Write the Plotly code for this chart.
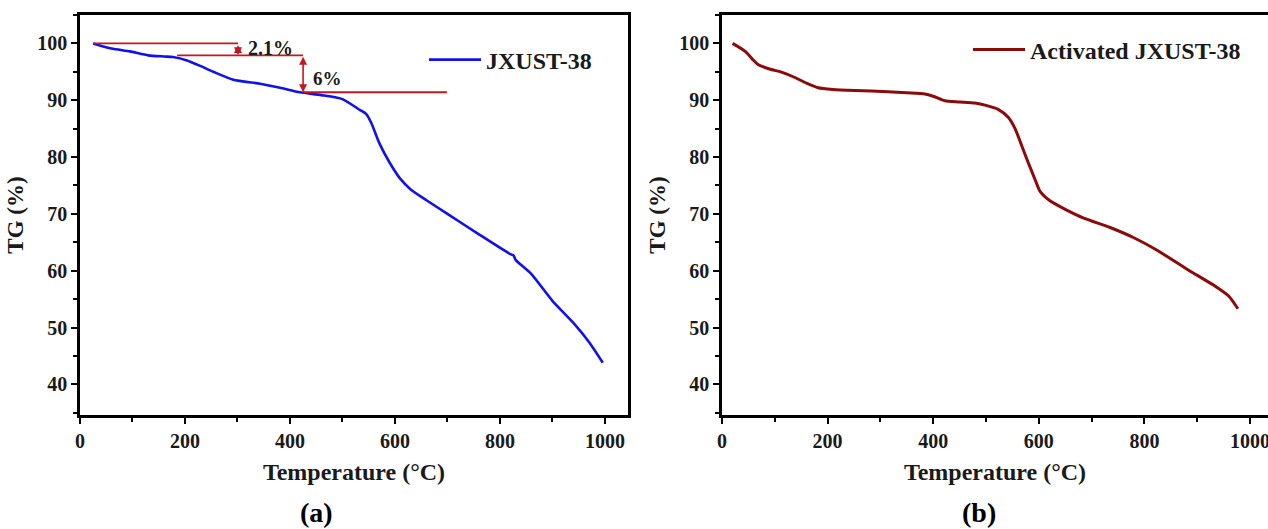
import plotly.graph_objects as go
from plotly.subplots import make_subplots

# ---- data ----
temp_a = [25, 60, 95, 130, 160, 177, 204, 230, 254, 292, 343, 381, 419, 460, 500, 533,
          545, 555, 570, 590, 610, 630, 660, 700, 760, 820, 826, 830, 860, 900, 940, 970, 996]
tg_a = [100.0, 99.1, 98.6, 97.9, 97.7, 97.6, 97.0, 96.0, 95.0, 93.6, 92.9, 92.2, 91.4, 90.9, 90.2, 88.3,
        87.6, 86.0, 82.5, 79.0, 76.2, 74.3, 72.4, 70.0, 66.4, 62.9, 62.7, 61.9, 59.4, 54.7, 50.8, 47.4, 43.8]

temp_b = [20, 44, 60, 68, 90, 114, 138, 160, 182, 210, 252, 314, 350, 384, 400, 422, 450, 479,
          500, 523, 542, 555, 568, 580, 593, 602, 621, 650, 684, 735, 780, 824, 880, 937, 960, 977]
tg_b = [100.0, 98.6, 97.0, 96.3, 95.5, 94.9, 94.0, 93.0, 92.2, 91.9, 91.7, 91.5, 91.3, 91.1, 90.7, 89.9, 89.7, 89.5,
        89.1, 88.4, 87.0, 85.0, 81.9, 79.0, 76.0, 74.0, 72.3, 70.8, 69.3, 67.6, 65.8, 63.6, 60.3, 57.1, 55.5, 53.3]

# step annotation levels (left panel)
step_levels = [100.0, 97.9, 91.4]
step_x = [(25, 301), (185, 425), (425, 699)]
step_labels = ["2.1%", "6%"]

FONT = "Liberation Serif"
RED = "#C8141E"
TXT = "#1a1a1a"

fig = make_subplots(rows=1, cols=2)

fig.add_trace(go.Scatter(x=temp_a, y=tg_a, mode="lines", name="JXUST-38",
                         line=dict(color="#1010F0", width=2.6, shape="spline", smoothing=0.6),
                         legend="legend"), row=1, col=1)
fig.add_trace(go.Scatter(x=temp_b, y=tg_b, mode="lines", name="Activated JXUST-38",
                         line=dict(color="#8B0A0A", width=3, shape="spline", smoothing=0.6),
                         legend="legend2"), row=1, col=2)

# red step lines
for (x0, x1), lvl in zip(step_x, step_levels):
    fig.add_trace(go.Scatter(x=[x0, x1], y=[lvl, lvl], mode="lines", showlegend=False,
                             line=dict(color=RED, width=1.8), hoverinfo="skip"), row=1, col=1)

# double-headed arrows
arrows = [(301, step_levels[0], step_levels[1]), (425, step_levels[1], step_levels[2])]
for ax_x, ytop, ybot in arrows:
    fig.add_annotation(x=ax_x, y=ybot, ax=ax_x, ay=ytop, xref="x", yref="y", axref="x", ayref="y",
                       showarrow=True, arrowhead=2, startarrowhead=2, arrowside="end+start",
                       arrowsize=1.0, arrowwidth=1.6, arrowcolor=RED, text="")

fig.add_annotation(x=316, y=99.2, xref="x", yref="y", text=step_labels[0], showarrow=False,
                   xanchor="left", font=dict(family=FONT, size=20, color=TXT, weight="bold"))
fig.add_annotation(x=440, y=93.8, xref="x", yref="y", text=step_labels[1], showarrow=False,
                   xanchor="left", font=dict(family=FONT, size=19, color=TXT, weight="bold"))

axis_common = dict(showline=True, linecolor="black", linewidth=2.5, ticks="outside",
                   ticklen=6, tickwidth=2, tickcolor="black", showgrid=False, zeroline=False,
                   automargin=False, ticklabeloverflow="allow",
                   tickfont=dict(family=FONT, size=20, color=TXT, weight="bold"))

xr = [0, 1044]
yr = [34.6, 105]
xtitle = dict(text="Temperature (°C)", standoff=13,
              font=dict(family=FONT, size=24, color=TXT, weight="bold"))
ytitle = dict(text="TG (%)", standoff=8,
              font=dict(family=FONT, size=23, color=TXT, weight="bold"))
xminor = dict(ticks="outside", dtick=100, ticklen=4, tickwidth=2, tickcolor="black")
yminor = dict(ticks="outside", dtick=5, ticklen=4, tickwidth=2, tickcolor="black")

fig.update_xaxes(range=xr, dtick=200, tick0=0, mirror=True, minor=xminor, title=xtitle,
                 domain=[80 / 1268, 628 / 1268], **axis_common, row=1, col=1)
fig.update_xaxes(range=[0, 1034], dtick=200, tick0=0, mirror=True, minor=xminor, title=xtitle,
                 domain=[722 / 1268, 1.0], **axis_common, row=1, col=2)
fig.update_yaxes(range=yr, dtick=10, tick0=0, mirror=True, minor=yminor, title=ytitle,
                 **axis_common, row=1, col=1)
fig.update_yaxes(range=yr, dtick=10, tick0=0, mirror=False, minor=yminor, title=ytitle,
                 **axis_common, row=1, col=2)

# panel labels
for lab, cx in (("(a)", 316), ("(b)", 979)):
    fig.add_annotation(x=cx / 1268, y=-(512 - 415) / 400, xref="paper", yref="paper", text=lab,
                       showarrow=False, xanchor="center", yanchor="middle",
                       font=dict(family=FONT, size=28, color="black", weight="bold"))

fig.update_layout(
    width=1268, height=529,
    margin=dict(l=0, r=0, t=15, b=114),
    plot_bgcolor="white", paper_bgcolor="white",
    legend=dict(x=424 / 1268, y=1 - (60 - 15) / 400, xanchor="left", yanchor="middle",
                font=dict(family=FONT, size=24, color=TXT, weight="bold"),
                itemwidth=52, bgcolor="rgba(0,0,0,0)"),
    legend2=dict(x=968 / 1268, y=1 - (50 - 15) / 400, xanchor="left", yanchor="middle",
                 font=dict(family=FONT, size=24, color=TXT, weight="bold"),
                 itemwidth=52, bgcolor="rgba(0,0,0,0)"),
)

fig.write_html("out.html", config={"displayModeBar": False},
               post_script="document.body.style.margin='0';document.body.style.overflow='hidden';")
